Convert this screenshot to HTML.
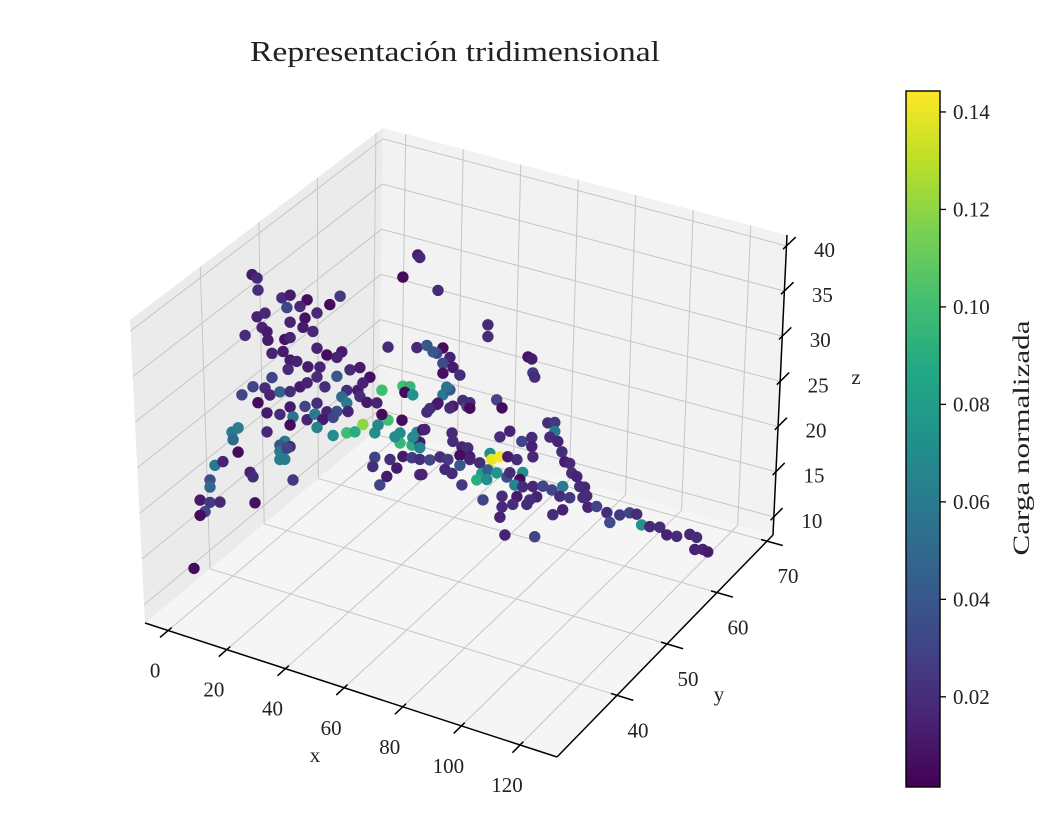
<!DOCTYPE html>
<html><head><meta charset="utf-8"><title>Representación tridimensional</title>
<style>
html,body{margin:0;padding:0;background:#fff;}
svg{display:block;font-family:"Liberation Serif","DejaVu Serif",serif;}
</style></head>
<body>
<svg id="chart" width="1041" height="837" viewBox="0 0 1041 837" xmlns="http://www.w3.org/2000/svg">
<defs>
<linearGradient id="viridis" x1="0" y1="1" x2="0" y2="0">
<stop offset="0" stop-color="#440154"/><stop offset="0.1" stop-color="#482475"/><stop offset="0.2" stop-color="#414487"/><stop offset="0.3" stop-color="#355f8d"/><stop offset="0.4" stop-color="#2a788e"/><stop offset="0.5" stop-color="#21918c"/><stop offset="0.6" stop-color="#22a884"/><stop offset="0.7" stop-color="#44bf70"/><stop offset="0.8" stop-color="#7ad151"/><stop offset="0.9" stop-color="#bddf26"/><stop offset="1" stop-color="#fde725"/>
</linearGradient>
</defs>
<text x="250" y="61" textLength="410" lengthAdjust="spacingAndGlyphs" font-size="28" fill="#222">Representación tridimensional</text>
<g id="panes"></g>
<g id="grid"></g>
<g id="axes"></g>
<g id="points"></g>
<g id="cbar"></g>
</svg>
<script>
// ---- data ----
const xs = [
-8.3,-6.6,-6.3,1.9,4.7,10.5,21.8,18.3,3.6,8.1,
13.9,9.8,-6.6,-3.9,4.7,9.1,12.5,-4.9,-3.2,-10.7,
-2.9,2.9,4.7,-1.5,2.3,13.9,22.4,17.3,20.7,4.7,
7.0,10.8,14.9,4.0,13.9,-1.5,-3.9,-8,-6.3,-11.8,
-2.2,1.2,4.7,8.1,10.5,16.6,20.7,25.2,28.6,32.0,
24.1,27.9,22.4,29.6,36.1,43.3,45.7,44.0,46.7,4.7,
9.8,13.9,17.3,20.7,24.1,24.5,28.6,31.0,34.4,-3.2,
1.2,5.7,10.5,13.2,15.9,19.4,-15.2,-13.1,-14.8,2.9,
1.2,4.7,-3.2,4.7,13.9,19.4,24.1,26.9,29.6,33.7,
34.8,38.2,36.1,43.0,42.3,48.1,50.1,42.3,46.4,-13.1,
1.2,3.6,1.2,2.9,-9.0,-8,-21,-18.3,-22.7,-22.7,
5.7,-26.1,-22.7,-19.3,-24.4,-26.1,-7.3,33.7,38.9,41.2,
33.0,35.4,37.8,43.3,49.1,49.1,43.3,55.3,48.4,49.1,
38.2,48.1,51.5,57.0,54.9,59.4,57.0,60.4,62.8,57.0,
57.0,59.4,63.8,54.9,51.5,60.4,65.2,72.4,72.4,53.6,
86.1,87.4,87.8,88.4,58.3,55.3,52.5,59.4,66.2,66.2,
75.4,77.2,92.9,95.3,95.3,93.6,96.3,97.7,98.7,100.4,
101.1,102.8,103.8,105.5,106.2,106.6,60.1,60.4,63.5,65.5,
66.2,62.8,76.5,79.9,84.0,87.4,87.4,87.8,40.6,46.7,
50.8,49.1,46.4,49.1,52.5,56.0,58.7,57.7,60.1,62.8,
66.2,69.6,73.1,73.7,76.5,79.2,82.3,70.3,72.4,68.6,
72.0,75.4,78.9,79.9,84.3,83.3,81.6,84.3,87.8,91.2,
89.1,86.7,82.3,80.9,77.2,76.5,85.7,94.3,98.0,97.0,
100.4,104.9,109.6,113.1,117.5,120.9,123.3,114.1,125.0,127.8,
131.2,133.6,137.0,141.5,143.8,145.9,147.6,143.2,70.7,77.2,
63.5,49.8,78.2,88.4,94.6,98.0,-28.2];
const ys = [
51.25,51.25,51.25,51.25,51.25,51.25,51.25,51.25,51.25,51.25,
51.25,51.25,51.25,51.25,51.25,51.25,51.25,51.25,51.25,51.25,
51.25,51.25,51.25,51.25,51.25,51.25,51.25,51.25,51.25,51.25,
51.25,51.25,51.25,51.25,51.25,51.25,51.25,51.25,51.25,51.25,
51.25,51.25,51.25,51.25,51.25,51.25,51.25,51.25,51.25,51.25,
51.25,51.25,51.25,51.25,51.25,51.25,51.25,51.25,51.25,51.25,
51.25,51.25,51.25,51.25,51.25,51.25,51.25,51.25,51.25,51.25,
51.25,51.25,51.25,51.25,51.25,51.25,51.25,51.25,51.25,51.25,
51.25,51.25,51.25,51.25,51.25,51.25,51.25,51.25,51.25,51.25,
51.25,51.25,51.25,51.25,51.25,51.25,51.25,51.25,51.25,51.25,
51.25,51.25,51.25,51.25,51.25,51.25,51.25,51.25,51.25,51.25,
51.25,51.25,51.25,51.25,51.25,51.25,51.25,51.25,51.25,51.25,
51.25,51.25,51.25,51.25,51.25,51.25,51.25,51.25,51.25,51.25,
51.25,51.25,51.25,51.25,51.25,51.25,51.25,51.25,51.25,51.25,
51.25,51.25,51.25,51.25,51.25,51.25,51.25,51.25,51.25,51.25,
51.25,51.25,51.25,51.25,51.25,51.25,51.25,51.25,51.25,51.25,
51.25,51.25,51.25,51.25,51.25,51.25,51.25,51.25,51.25,51.25,
51.25,51.25,51.25,51.25,51.25,51.25,51.25,51.25,51.25,51.25,
51.25,51.25,51.25,51.25,51.25,51.25,51.25,51.25,51.25,51.25,
51.25,51.25,51.25,51.25,51.25,51.25,51.25,51.25,51.25,51.25,
51.25,51.25,51.25,51.25,51.25,51.25,51.25,51.25,51.25,51.25,
51.25,51.25,51.25,51.25,51.25,51.25,51.25,51.25,51.25,51.25,
51.25,51.25,51.25,51.25,51.25,51.25,51.25,51.25,51.25,51.25,
51.25,51.25,51.25,51.25,51.25,51.25,51.25,51.25,51.25,51.25,
51.25,51.25,51.25,51.25,51.25,51.25,51.25,51.25,51.25,51.25,
51.25,51.25,51.25,51.25,51.25,51.25,51.25];
const zs = [
34.5,34.3,33.0,33.0,33.6,33.7,35.3,34.0,32.1,32.7,
32.6,31.6,30.0,30.7,30.6,30.5,30.4,29.0,28.7,27.5,
27.8,28.5,28.9,26.5,27.1,28.7,29.2,28.3,28.4,26.4,
26.5,26.3,26.7,25.3,25.5,23.8,22.4,22.1,20.5,20.8,
21.8,22.5,22.9,23.8,24.5,24.7,26.3,27.5,28.1,27.4,
25.1,25.5,24.2,26.5,26.4,27.6,27.8,27.0,27.0,21.2,
21.8,22.6,22.0,22.4,23.7,22.8,24.9,24.5,24.8,19.7,
20.0,20.2,20.4,21.3,21.0,21.6,16.3,17.0,15.5,17.2,
16.6,16.8,17.6,19.2,19.9,19.6,20.4,20.8,21.9,21.4,
22.4,23.3,23.7,23.8,22.3,23.0,23.5,21.2,21.4,14.3,
15.9,16.5,15.0,15.2,12.5,12.1,12.0,12.7,10.2,9.4,
13.2,7.6,7.7,8.1,6.5,5.9,9.3,18.7,19.0,18.3,
17.6,15.8,17.0,19.8,18.4,22.0,39.7,39.5,42.7,42.5,
31.4,32.4,33.0,33.3,32.5,32.5,31.6,31.5,30.9,30.5,
28.1,28.9,28.2,26.8,25.6,27.2,27.7,37.5,36.2,32.5,
35.4,35.3,33.8,33.4,29.1,27.0,26.1,26.9,28.2,27.6,
29.5,28.8,28.8,29.1,28.1,27.3,27.1,26.1,25.1,25.1,
24.1,23.9,22.9,23.0,22.1,20.9,24.2,23.3,23.0,23.1,
22.2,22.0,25.5,26.5,25.8,26.6,25.6,24.5,21.7,22.3,
23.6,21.4,20.0,20.1,20.4,21.1,21.1,19.9,19.7,20.9,
21.9,21.9,23.3,22.7,23.3,23.6,23.6,20.8,21.4,19.9,
20.3,21.4,21.3,21.9,22.4,21.5,20.7,20.8,21.2,21.6,
20.2,19.6,19.5,18.5,17.8,16.6,19.0,21.5,22.3,21.1,
21.3,21.8,21.3,21.0,21.2,21.8,21.9,20.0,20.9,21.0,
21.3,20.7,20.9,21.6,21.5,20.4,20.3,20.1,17.9,19.0,
18.8,18.5,14.8,15.7,18.8,19.7,-0.2];
const cs = [
.012,.018,.02,.02,.012,.006,.025,.006,.03,.018,
.018,.008,.015,.018,.015,.012,.018,.015,.012,.02,
.012,.008,.015,.015,.012,.015,.012,.006,.015,.012,
.015,.012,.015,.018,.02,.03,.02,.03,.006,.03,
.015,.045,.02,.012,.015,.02,.04,.018,.012,.008,
.02,.012,.05,.015,.1,.1,.095,.005,.075,.012,
.03,.02,.015,.035,.06,.015,.02,.012,.015,.012,
.02,.055,.015,.06,.012,.03,.06,.062,.05,.06,
.04,.02,.018,.006,.065,.07,.1,.09,.12,.07,
.068,.1,.005,.006,.07,.07,.008,.095,.09,.006,
.06,.03,.062,.06,.015,.02,.06,.015,.035,.05,
.025,.012,.025,.018,.03,.006,.008,.03,.02,.012,
.02,.03,.012,.012,.018,.012,.006,.018,.012,.018,
.02,.018,.04,.006,.03,.015,.035,.012,.02,.008,
.06,.04,.02,.015,.018,.012,.03,.018,.02,.04,
.008,.012,.025,.02,.055,.012,.02,.018,.02,.006,
.03,.006,.02,.025,.06,.02,.015,.02,.012,.018,
.02,.015,.02,.018,.02,.015,.018,.02,.015,.02,
.012,.006,.02,.015,.03,.02,.015,.018,.07,.07,
.015,.065,.025,.02,.03,.02,.025,.018,.02,.04,
.015,.02,.07,.14,.143,.012,.02,.08,.045,.09,
.07,.075,.035,.02,.07,.005,.065,.02,.018,.03,
.015,.02,.012,.02,.018,.015,.02,.03,.06,.02,
.025,.02,.03,.02,.025,.03,.02,.035,.075,.018,
.02,.015,.02,.018,.02,.015,.012,.015,.03,.02,
.025,.015,.015,.03,.02,.015,.006];
const xTicks = [0,20,40,60,80,100,120];
const yTicks = [40,50,60,70];
const zTicks = [10,15,20,25,30,35,40];
const cbTicks = [0.02,0.04,0.06,0.08,0.10,0.12,0.14];
const cbTickLabels = ["0.02","0.04","0.06","0.08","0.10","0.12","0.14"];

// ---- projection (box) ----
const XR=[-7.9,132.6], YR=[28,71.2], ZR=[8,41.2];
const C = {
 '000':[145,623],'100':[557,757],'010':[379,428],'110':[773,535],
 '001':[130,320],'101':[555,455],'011':[383,128],'111':[787,235]};
function tri(u,v,w){
  let sx=0, sy=0;
  for(const a of [0,1])for(const b of [0,1])for(const c of [0,1]){
    const wt=(a?u:1-u)*(b?v:1-v)*(c?w:1-w);
    const p=C[''+a+b+c]; sx+=wt*p[0]; sy+=wt*p[1];
  }
  return [sx,sy];
}
const nx=x=>(x-XR[0])/(XR[1]-XR[0]), ny=y=>(y-YR[0])/(YR[1]-YR[0]), nz=z=>(z-ZR[0])/(ZR[1]-ZR[0]);
// ---- projection (scatter points) ----
function projPoint(x,y,z){
  const u=(x+8)/141, v=(y-30.5)/41.5, w=(z-8.2)/33.5;
  return [145+412*u+216*v, 622+135*u-220*v-302*w];
}
const NS='http://www.w3.org/2000/svg';
function mk(tag,attrs,parent){const e=document.createElementNS(NS,tag);for(const k in attrs)e.setAttribute(k,attrs[k]);parent.appendChild(e);return e;}
const stops=[[0,'#440154'],[0.1,'#482475'],[0.2,'#414487'],[0.3,'#355f8d'],[0.4,'#2a788e'],[0.5,'#21918c'],[0.6,'#22a884'],[0.7,'#44bf70'],[0.8,'#7ad151'],[0.9,'#bddf26'],[1,'#fde725']];
function hex(h){return [1,3,5].map(i=>parseInt(h.substr(i,2),16));}
function viridis(t){t=Math.max(0,Math.min(1,t));for(let i=1;i<stops.length;i++){if(t<=stops[i][0]){const a=stops[i-1],b=stops[i];const f=(t-a[0])/(b[0]-a[0]);const A=hex(a[1]),B=hex(b[1]);return 'rgb('+A.map((q,j)=>Math.round(q+(B[j]-q)*f)).join(',')+')';}}return stops[stops.length-1][1];}
const CMIN=0.0015, CMAX=0.1443;
const pt=p=>p[0].toFixed(1)+','+p[1].toFixed(1);

// panes
const panes=document.getElementById('panes');
const poly=(pts,fill,name)=>{const e=mk('polygon',{points:pts.map(pt).join(' '),fill:fill},panes);

};
poly([tri(0,0,0),tri(1,0,0),tri(1,1,0),tri(0,1,0)],'#f5f5f5','floor-pane');
poly([tri(0,0,0),tri(0,1,0),tri(0,1,1),tri(0,0,1)],'#ebebeb','left-pane');
poly([tri(0,1,0),tri(1,1,0),tri(1,1,1),tri(0,1,1)],'#f2f2f2','back-pane');

// grid
const grid=document.getElementById('grid');
function gl(a,b,name){const e=mk('line',{x1:a[0],y1:a[1],x2:b[0],y2:b[1],stroke:'#c6c6c6','stroke-width':1},grid);

}
xTicks.forEach(t=>{const u=nx(t);gl(tri(u,0,0),tri(u,1,0),'x-gridline');gl(tri(u,1,0),tri(u,1,1),'x-gridline');});
yTicks.forEach(t=>{const v=ny(t);gl(tri(0,v,0),tri(1,v,0),'y-gridline');gl(tri(0,v,0),tri(0,v,1),'y-gridline');});
zTicks.forEach(t=>{const w=nz(t);gl(tri(0,0,w),tri(0,1,w),'z-gridline');gl(tri(0,1,w),tri(1,1,w),'z-gridline');});

// axes
const axes=document.getElementById('axes');
function al(a,b,name){const e=mk('line',{x1:a[0],y1:a[1],x2:b[0],y2:b[1],stroke:'#000','stroke-width':1.5},axes);

}
function tx(x,y,s,name,anchor,size){const e=mk('text',{x:x,y:y,'font-size':size||21,fill:'#222','text-anchor':anchor||'middle'},axes);e.textContent=s;

}
al(tri(0,0,0),tri(1,0,0),'x-axis-line');
al(tri(1,0,0),tri(1,1,0),'y-axis-line');
al(tri(1,1,0),tri(1,1,1),'z-axis-line');
xTicks.forEach(t=>{const u=nx(t);const p=tri(u,0,0);al(tri(u,-0.035,0),tri(u,0.015,0),'x-tick');tx(p[0]-13,p[1]+47,String(t),'x-tick-label');});
yTicks.forEach(t=>{const v=ny(t);const p=tri(1,v,0);al(tri(1.04,v,0),tri(0.985,v,0),'y-tick');tx(p[0]+21,p[1]+42,String(t),'y-tick-label');});
zTicks.forEach(t=>{const w=nz(t);const p=tri(1,1,w);al(tri(1,0.985,w),tri(1,1.04,w),'z-tick');tx(p[0]+38,p[1]+11,String(t),'z-tick-label');});
tx(315,762,'x','x-axis-title');
tx(719,701,'y','y-axis-title');
tx(856,384,'z','z-axis-title');

// points
const pg=document.getElementById('points');
for(let i=0;i<xs.length;i++){
  const p=projPoint(xs[i],ys[i],zs[i]);
  const c=mk('circle',{cx:p[0].toFixed(1),cy:p[1].toFixed(1),r:5.7,fill:viridis((cs[i]-CMIN)/(CMAX-CMIN))},pg);
  
  
}

// colorbar
const cb=document.getElementById('cbar');
const CB={x:906,y:91,w:34,h:696};
const r=mk('rect',{x:CB.x,y:CB.y,width:CB.w,height:CB.h,fill:'url(#viridis)',stroke:'#000','stroke-width':1.4},cb);


const cy=v=>CB.y+CB.h-(v-CMIN)/(CMAX-CMIN)*CB.h;
cbTicks.forEach((t,i)=>{const y=cy(t);
 const l=mk('line',{x1:CB.x+CB.w,y1:y,x2:CB.x+CB.w+6,y2:y,stroke:'#000','stroke-width':1.3},cb);
 
 
 const e=mk('text',{x:953,y:y+7,'font-size':21,fill:'#222'},cb);e.textContent=cbTickLabels[i];
 
 
});
const lab=mk('text',{x:0,y:0,'font-size':23,fill:'#222','text-anchor':'middle',textLength:235,lengthAdjust:'spacingAndGlyphs',transform:'translate(1029,438) rotate(-90)'},cb);
lab.textContent='Carga normalizada';


</script>
</body></html>
